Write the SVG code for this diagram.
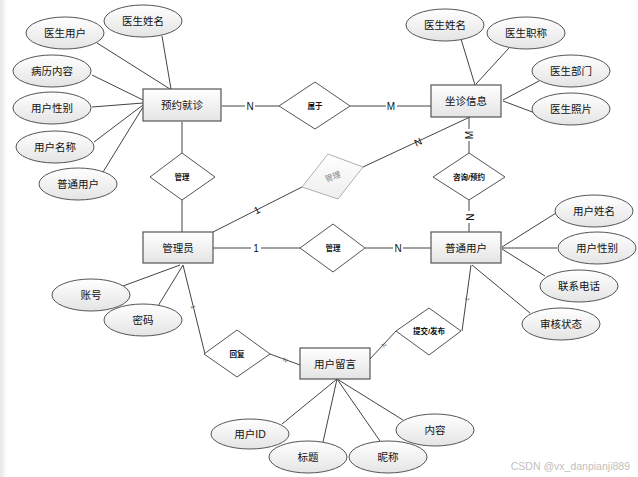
<svg xmlns="http://www.w3.org/2000/svg" width="638" height="477" viewBox="0 0 638 477">
<defs>
<linearGradient id="g" x1="0" y1="0" x2="0" y2="1"><stop offset="0" stop-color="#ffffff"/><stop offset="1" stop-color="#e4e4e4"/></linearGradient>
<linearGradient id="gg" x1="0" y1="0" x2="0" y2="1"><stop offset="0" stop-color="#ffffff"/><stop offset="1" stop-color="#eeeeee"/></linearGradient>
<linearGradient id="gl" x1="0" y1="0" x2="1" y2="0"><stop offset="0" stop-color="#e6e6e6"/><stop offset="1" stop-color="#ffffff"/></linearGradient>
<style>
.ent{fill:url(#g);stroke:#555;stroke-width:1.2}
.att{fill:url(#g);stroke:#555;stroke-width:1}
.rel{fill:#fff;stroke:#555;stroke-width:1}
.t{font-family:"Liberation Sans","Noto Sans CJK SC",sans-serif;font-size:10.5px;fill:#111;text-anchor:middle;dominant-baseline:central}
.rt{font-family:"Liberation Sans","Noto Sans CJK SC",sans-serif;font-size:7.5px;fill:#111;text-anchor:middle;dominant-baseline:central;font-weight:bold}
.c line,.c polyline{stroke:#444;stroke-width:1;fill:none}
.lb{font-family:"Liberation Sans","Noto Sans CJK SC",sans-serif;font-size:10px;fill:#111;text-anchor:middle;dominant-baseline:central}
.lbs{font-family:"Liberation Sans",sans-serif;font-size:6px;fill:#666;text-anchor:middle;dominant-baseline:central}
</style>
</defs>
<rect x="0" y="0" width="638" height="477" fill="#fff"/>
<rect x="0" y="0" width="7" height="477" fill="url(#gl)"/>

<g class="c" id="connectors">
<line x1="97" y1="43" x2="170" y2="89"/>
<line x1="162" y1="36" x2="171" y2="89"/>
<line x1="92" y1="75" x2="143" y2="100"/>
<line x1="92" y1="107" x2="143" y2="103"/>
<line x1="94" y1="142" x2="143" y2="105"/>
<line x1="103" y1="172" x2="143" y2="107"/>
<line x1="461" y1="39" x2="475" y2="85"/>
<line x1="509" y1="48" x2="476" y2="84"/>
<line x1="539" y1="81" x2="503" y2="100"/>
<line x1="535" y1="113" x2="503" y2="101"/>
<line x1="556" y1="213" x2="502" y2="247"/>
<line x1="557" y1="248" x2="502" y2="248"/>
<line x1="545" y1="276" x2="502" y2="249"/>
<line x1="472" y1="265" x2="530" y2="313"/>
<line x1="123" y1="286" x2="180" y2="265"/>
<line x1="158" y1="306" x2="183" y2="265"/>
<line x1="282" y1="424" x2="337" y2="379"/>
<line x1="323" y1="442" x2="337" y2="379"/>
<line x1="380" y1="441" x2="337" y2="379"/>
<line x1="403" y1="420" x2="337" y2="379"/>
<line x1="222" y1="106" x2="279" y2="106"/>
<line x1="350" y1="106" x2="431" y2="106"/>
<line x1="182" y1="122" x2="182" y2="153"/>
<line x1="182" y1="200" x2="182" y2="232"/>
<line x1="213" y1="232" x2="302" y2="187"/>
<line x1="363" y1="167" x2="470" y2="117"/>
<line x1="469" y1="117" x2="469" y2="153"/>
<line x1="469" y1="200" x2="469" y2="232"/>
<line x1="213" y1="248" x2="300" y2="248"/>
<line x1="365" y1="248" x2="431" y2="248"/>
<line x1="183" y1="265" x2="205" y2="354"/>
<line x1="270" y1="354" x2="300" y2="365"/>
<line x1="471" y1="265" x2="462" y2="331"/>
<line x1="396" y1="331" x2="370" y2="359"/>
</g>

<g id="cardinality">
<rect x="245" y="100" width="10" height="12" fill="#fff"/><text class="lb" x="250" y="106">N</text>
<rect x="386" y="100" width="11" height="12" fill="#fff"/><text class="lb" x="391" y="106">M</text>
<text class="lb" x="257" y="210" transform="rotate(-27 257 210)">1</text>
<text class="lb" x="418" y="142" transform="rotate(-25 418 142)">N</text>
<rect x="464" y="129" width="10" height="12" fill="#fff"/><text class="lb" x="469" y="135" transform="rotate(-90 469 135)">M</text>
<rect x="464" y="211" width="10" height="12" fill="#fff"/><text class="lb" x="469" y="217" transform="rotate(90 469 217)">N</text>
<rect x="251" y="242" width="10" height="12" fill="#fff"/><text class="lb" x="256" y="248">1</text>
<rect x="393" y="242" width="10" height="12" fill="#fff"/><text class="lb" x="398" y="248">N</text>
<text class="lbs" x="193" y="307" transform="rotate(76 193 307)">1</text>
<text class="lbs" x="285" y="360" transform="rotate(20 285 360)">N</text>
<text class="lbs" x="467" y="299" transform="rotate(-82 467 299)">1</text>
<text class="lbs" x="384" y="345" transform="rotate(-47 384 345)">N</text>
</g>

<g id="e-yuyue"><rect class="ent" x="143" y="89" width="78" height="32"/><text class="t" x="182" y="105">预约就诊</text></g>
<g id="e-zuozhen"><rect class="ent" x="431" y="85" width="70" height="32"/><text class="t" x="466" y="101">坐诊信息</text></g>
<g id="e-admin"><rect class="ent" x="143" y="232" width="70" height="31"/><text class="t" x="178" y="248">管理员</text></g>
<g id="e-user"><rect class="ent" x="431" y="232" width="70" height="31"/><text class="t" x="466" y="248">普通用户</text></g>
<g id="e-msg"><rect class="ent" x="300" y="348" width="70" height="31"/><text class="t" x="335" y="364">用户留言</text></g>

<g id="r-shuyu"><polygon class="rel" points="315,82 350,106 315,129 279,106"/><text class="rt" x="315" y="106">属于</text></g>
<g id="r-guanli1"><polygon class="rel" points="182,153 215,177 182,200 150,177"/><text class="rt" x="182" y="177">管理</text></g>
<g id="r-guanli-grey"><polygon points="328,154 363,167 338,199 302,187" fill="url(#gg)" stroke="#b0b0b0" stroke-width="1"/><text x="333" y="177" transform="rotate(-20 333 177)" font-family="Liberation Sans,Noto Sans CJK SC,sans-serif" font-size="8" fill="#888" text-anchor="middle" dominant-baseline="central">管理</text></g>
<g id="r-zixun"><polygon class="rel" points="469,153 505,177 469,200 433,177"/><text class="rt" x="469" y="177">咨询/预约</text></g>
<g id="r-guanli2"><polygon class="rel" points="333,224 365,248 333,272 300,248"/><text class="rt" x="333" y="248">管理</text></g>
<g id="r-huifu"><polygon class="rel" points="237,330 270,354 237,377 204,354"/><text class="rt" x="237" y="354">回复</text></g>
<g id="r-tijiao"><polygon class="rel" points="429,308 461,331 429,355 396,331"/><text class="rt" x="429" y="331">提交/发布</text></g>

<g id="a-yisheng-yonghu"><ellipse class="att" cx="65" cy="33" rx="39" ry="16"/><text class="t" x="65" y="33">医生用户</text></g>
<g id="a-yisheng-xingming-l"><ellipse class="att" cx="143" cy="21" rx="39" ry="16"/><text class="t" x="143" y="21">医生姓名</text></g>
<g id="a-bingli"><ellipse class="att" cx="52" cy="71" rx="39" ry="16"/><text class="t" x="52" y="71">病历内容</text></g>
<g id="a-xingbie-l"><ellipse class="att" cx="52" cy="108" rx="39" ry="16"/><text class="t" x="52" y="108">用户性别</text></g>
<g id="a-mingcheng"><ellipse class="att" cx="55" cy="147" rx="39" ry="16"/><text class="t" x="55" y="147">用户名称</text></g>
<g id="a-putong"><ellipse class="att" cx="78" cy="184" rx="39" ry="16"/><text class="t" x="78" y="184">普通用户</text></g>

<g id="a-yisheng-xingming-r"><ellipse class="att" cx="445" cy="25" rx="39" ry="16"/><text class="t" x="445" y="25">医生姓名</text></g>
<g id="a-zhicheng"><ellipse class="att" cx="526" cy="33" rx="39" ry="16"/><text class="t" x="526" y="33">医生职称</text></g>
<g id="a-bumen"><ellipse class="att" cx="571" cy="71" rx="39" ry="16"/><text class="t" x="571" y="71">医生部门</text></g>
<g id="a-zhaopian"><ellipse class="att" cx="571" cy="109" rx="39" ry="16"/><text class="t" x="571" y="109">医生照片</text></g>

<g id="a-yonghu-xingming"><ellipse class="att" cx="594" cy="211" rx="39" ry="16"/><text class="t" x="594" y="211">用户姓名</text></g>
<g id="a-xingbie-r"><ellipse class="att" cx="597" cy="248" rx="39" ry="16"/><text class="t" x="597" y="248">用户性别</text></g>
<g id="a-dianhua"><ellipse class="att" cx="579" cy="286" rx="39" ry="16"/><text class="t" x="579" y="286">联系电话</text></g>
<g id="a-shenhe"><ellipse class="att" cx="561" cy="324" rx="39" ry="16"/><text class="t" x="561" y="324">审核状态</text></g>

<g id="a-zhanghao"><ellipse class="att" cx="91" cy="295" rx="39" ry="16"/><text class="t" x="91" y="295">账号</text></g>
<g id="a-mima"><ellipse class="att" cx="143" cy="320" rx="39" ry="16"/><text class="t" x="143" y="320">密码</text></g>

<g id="a-yonghuid"><ellipse class="att" cx="250" cy="434" rx="39" ry="15"/><text class="t" x="250" y="434">用户ID</text></g>
<g id="a-biaoti"><ellipse class="att" cx="308" cy="457" rx="39" ry="16"/><text class="t" x="308" y="457">标题</text></g>
<g id="a-nicheng"><ellipse class="att" cx="388" cy="457" rx="39" ry="16"/><text class="t" x="388" y="457">昵称</text></g>
<g id="a-neirong"><ellipse class="att" cx="435" cy="430" rx="39" ry="16"/><text class="t" x="435" y="430">内容</text></g>

<text x="630" y="466" font-family="Liberation Sans,Noto Sans CJK SC,sans-serif" font-size="10.5" fill="#c0c0c0" text-anchor="end" dominant-baseline="central">CSDN @vx_danpianji889</text>
</svg>
